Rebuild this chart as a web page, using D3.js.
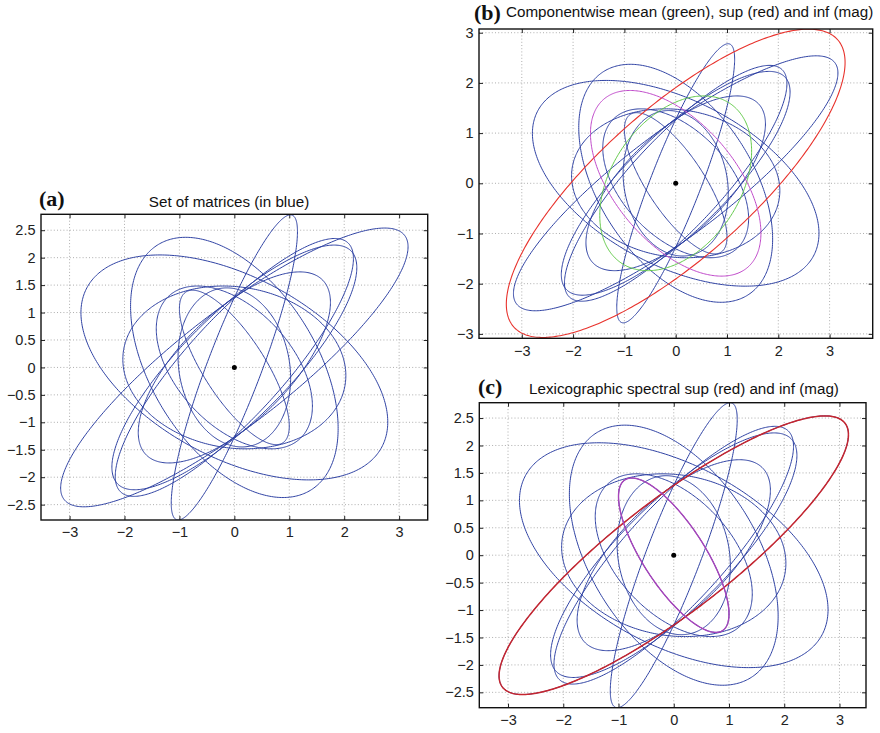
<!DOCTYPE html>
<html>
<head>
<meta charset="utf-8">
<script src="https://cdn.jsdelivr.net/npm/d3@7"></script>
<style>
  body { margin: 0; background: #fff; }
  text { font-family: "Liberation Sans", Arial, sans-serif; }
  .tag { font-family: "Liberation Serif", "Times New Roman", serif; font-weight: bold; }
</style>
</head>
<body>
<svg id="fig" width="880" height="733"></svg>
<script>
// each SPD matrix stored as [a11, a12, a22]; drawn as {x : x' M^-1 x = 1}
const setMatrices = [
  [10.0, 6.95, 6.45],
  [1.32, 2.84, 7.73],
  [7.8, -2.78, 4.2],
  [3.57, -2.1, 5.62],
  [3.06, 2.07, 3.03],
  [4.97, 4.05, 4.97],
  [4.7, 4.3, 5.52],
  [4.12, -0.3, 2.2],
  [2.02, -1.0, 2.2],
  [1.0, -1.07, 1.98],
  [1.05, -0.2, 2.1]
];
const compMean = [2.19, 0.95, 3.03];
const compSup = [10.9, 7.95, 9.43];
const compInf = [2.76, -1.65, 3.42];
const lexSup = [10.0, 6.95, 6.45];
const lexInf = [1.0, -1.07, 1.98];

const xTicks = [-3, -2, -1, 0, 1, 2, 3];
const yTicksHalf = [-2.5, -2, -1.5, -1, -0.5, 0, 0.5, 1, 1.5, 2, 2.5];
const yTicksUnit = [-3, -2, -1, 0, 1, 2, 3];

const blue = "#2f42a3";

const panels = [
  { key: "a", tag: "(a)", title: "Set of matrices (in blue)",
    left: 41, top: 214.3, right: 427.7, bottom: 520,
    xDomain: [-3.52, 3.52], yDomain: [-2.78, 2.79], yTicks: yTicksHalf,
    tagX: 39, tagY: 206, titleX: 229, titleY: 207, titleAnchor: "middle",
    extra: [] },
  { key: "b", tag: "(b)", title: "Componentwise mean (green), sup (red) and inf (mag)",
    left: 479, top: 29, right: 872.7, bottom: 338.3,
    xDomain: [-3.834, 3.84], yDomain: [-3.088, 3.074], yTicks: yTicksUnit,
    tagX: 474, tagY: 20, titleX: 506, titleY: 17, titleAnchor: "start",
    extra: [ {m: compMean, color: "#62c94a", w: 1},
             {m: compSup, color: "#e8322c", w: 1.1},
             {m: compInf, color: "#bf48c9", w: 1} ] },
  { key: "c", tag: "(c)", title: "Lexicographic spectral sup (red) and inf (mag)",
    left: 479.3, top: 402.7, right: 866, bottom: 707.7,
    xDomain: [-3.52, 3.48], yDomain: [-2.78, 2.78], yTicks: yTicksHalf,
    tagX: 478, tagY: 394, titleX: 684, titleY: 394, titleAnchor: "middle",
    extra: [ {m: lexSup, color: "#c6262f", w: 1.5},
             {m: lexInf, color: "#a844ba", w: 1.4} ] }
];

const svg = d3.select("#fig");
const fmt = d => d < 0 ? "\u2212" + Math.abs(d) : String(d);

function ellipsePoints(m) {
  const [a, b, c] = m;
  const l11 = Math.sqrt(a), l21 = b / l11, l22 = Math.sqrt(c - l21 * l21);
  return d3.range(0, 361).map(i => {
    const t = i * Math.PI / 180;
    return [l11 * Math.cos(t), l21 * Math.cos(t) + l22 * Math.sin(t)];
  });
}

panels.forEach(p => {
  const w = p.right - p.left, h = p.bottom - p.top;
  const x = d3.scaleLinear().domain(p.xDomain).range([p.left, p.right]);
  const y = d3.scaleLinear().domain(p.yDomain).range([p.bottom, p.top]);
  const g = svg.append("g").attr("class", "panel-" + p.key);

  g.append("defs").append("clipPath").attr("id", "clip-" + p.key)
    .append("rect").attr("x", p.left).attr("y", p.top).attr("width", w).attr("height", h);

  // dotted grid
  const grid = g.append("g").attr("stroke", "#999").attr("stroke-width", 0.8)
    .attr("stroke-dasharray", "1,2.2");
  grid.selectAll("line.gx").data(xTicks).join("line").attr("class", "gx")
    .attr("x1", d => x(d)).attr("x2", d => x(d)).attr("y1", p.top).attr("y2", p.bottom);
  grid.selectAll("line.gy").data(p.yTicks).join("line").attr("class", "gy")
    .attr("y1", d => y(d)).attr("y2", d => y(d)).attr("x1", p.left).attr("x2", p.right);

  // axes with inside ticks
  const axB = g.append("g").attr("transform", `translate(0,${p.bottom})`)
    .call(d3.axisBottom(x).tickValues(xTicks).tickFormat(fmt).tickSize(-4).tickPadding(7));
  const axL = g.append("g").attr("transform", `translate(${p.left},0)`)
    .call(d3.axisLeft(y).tickValues(p.yTicks).tickFormat(fmt).tickSize(-4).tickPadding(5.5));
  const axT = g.append("g").attr("transform", `translate(0,${p.top})`)
    .call(d3.axisTop(x).tickValues(xTicks).tickFormat("").tickSize(-4));
  const axR = g.append("g").attr("transform", `translate(${p.right},0)`)
    .call(d3.axisRight(y).tickValues(p.yTicks).tickFormat("").tickSize(-4));
  [axB, axL, axT, axR].forEach(a => {
    a.select(".domain").remove();
    a.selectAll(".tick line").attr("stroke", "#222").attr("stroke-width", 1);
    a.selectAll("text").attr("fill", "#222").style("font-size", "14.5px")
      .style("font-family", "'Liberation Sans', Arial, sans-serif");
  });

  // curves
  const line = d3.line().x(d => x(d[0])).y(d => y(d[1]));
  const curves = g.append("g").attr("clip-path", `url(#clip-${p.key})`).attr("fill", "none");
  curves.selectAll("path.set").data(setMatrices).join("path").attr("class", "set")
    .attr("d", m => line(ellipsePoints(m)))
    .attr("stroke", blue).attr("stroke-width", 1);
  curves.selectAll("path.extra").data(p.extra).join("path").attr("class", "extra")
    .attr("d", e => line(ellipsePoints(e.m)))
    .attr("stroke", e => e.color).attr("stroke-width", e => e.w);

  g.append("circle").attr("cx", x(0)).attr("cy", y(0)).attr("r", 2.5).attr("fill", "#000");

  // box
  g.append("rect").attr("x", p.left).attr("y", p.top).attr("width", w).attr("height", h)
    .attr("fill", "none").attr("stroke", "#111").attr("stroke-width", 1.4);

  g.append("text").attr("class", "tag").attr("x", p.tagX).attr("y", p.tagY)
    .style("font-size", "22px").attr("fill", "#111").text(p.tag);
  g.append("text").attr("x", p.titleX).attr("y", p.titleY)
    .attr("text-anchor", p.titleAnchor).style("font-size", "15.2px").attr("fill", "#111")
    .text(p.title);
});
</script>
</body>
</html>
